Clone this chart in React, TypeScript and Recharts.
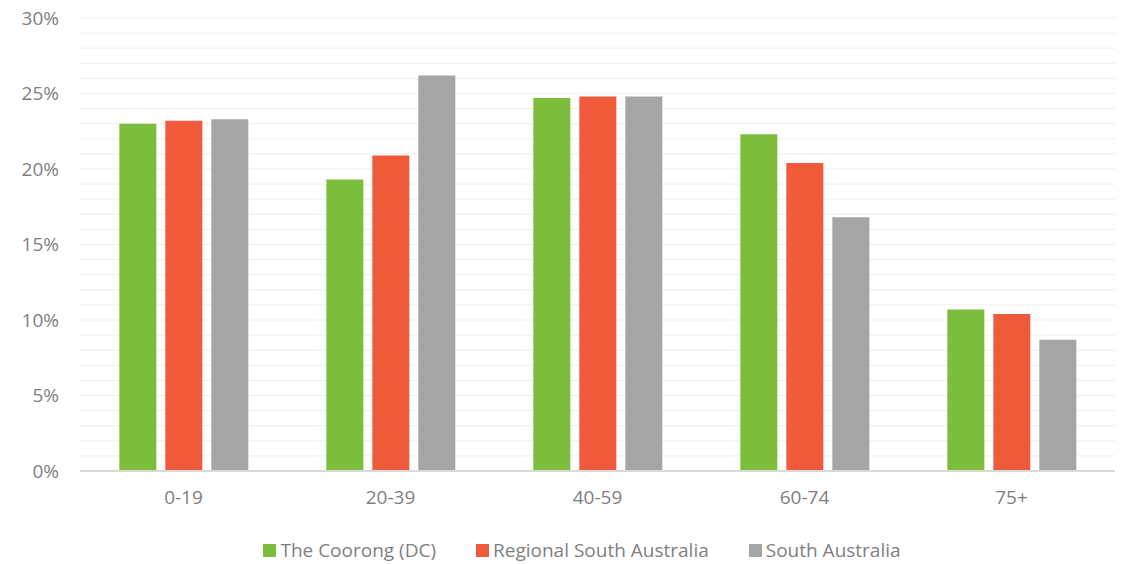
import React from "react";
import { BarChart, Bar, XAxis, YAxis, CartesianGrid, Legend } from "recharts";

const categories = ["0-19", "20-39", "40-59", "60-74", "75+"];
const coorong = [23.0, 19.3, 24.7, 22.3, 10.7];
const regionalSA = [23.2, 20.9, 24.8, 20.4, 10.4];
const southAustralia = [23.3, 26.2, 24.8, 16.8, 8.7];
const yTicks = [0, 5, 10, 15, 20, 25, 30];
const yMax = 30;
const gridValues = [1, 2, 3, 4, 5, 6, 7, 8, 9, 10, 11, 12, 13, 14, 15, 16, 17, 18, 19, 20, 21, 22, 23, 24, 25, 26, 27, 28, 29, 30];

const seriesKeys = ["coorong", "regional", "sa"];
const seriesNames = ["The Coorong (DC)", "Regional South Australia", "South Australia"];
const seriesColors = ["#7cbd3c", "#ef5a3b", "#a5a5a5"];

const data = categories.map((c, i) => ({
  name: c,
  coorong: coorong[i],
  regional: regionalSA[i],
  sa: southAustralia[i],
}));

const FONT = "'Open Sans', sans-serif";
const TEXT = "#7f7f7f";

function gridCoords(props: any): number[] {
  const s = props?.yAxis?.scale;
  return gridValues.map((v) => {
    if (typeof s === "function") return s(v);
    if (s && typeof s.map === "function") return s.map(v);
    const off = props.offset;
    return off.top + off.height * (1 - v / yMax);
  });
}

function LegendContent() {
  return (
    <div
      style={{
        display: "flex",
        justifyContent: "center",
        alignItems: "center",
        height: 28,
        paddingLeft: 40,
        fontFamily: FONT,
        fontSize: 19,
        color: TEXT,
      }}
    >
      {seriesNames.map((n, i) => (
        <div key={n} style={{ display: "flex", alignItems: "center", marginRight: i < seriesNames.length - 1 ? 40 : 0 }}>
          <span style={{ display: "inline-block", width: 13, height: 13, background: seriesColors[i], marginRight: 4 }} />
          <span>{n}</span>
        </div>
      ))}
    </div>
  );
}

export default function App() {
  return (
    <div style={{ position: "absolute", left: 0, top: 0, width: 1124, height: 564, background: "#fff" }}>
      <BarChart
        width={1124}
        height={564}
        data={data}
        margin={{ top: 18, right: 9, bottom: 0, left: 0 }}
        barCategoryGap="19%"
        barGap={9}
      >
        <CartesianGrid vertical={false} stroke="#efefef" horizontalCoordinatesGenerator={gridCoords} />
        <XAxis
          dataKey="name"
          axisLine={{ stroke: "#d9d9d9", strokeWidth: 2 }}
          tickLine={false}
          tick={{ fill: TEXT, fontSize: 19, fontFamily: FONT }}
          tickMargin={14}
          height={65}
        />
        <YAxis
          domain={[0, yMax]}
          ticks={yTicks}
          width={80}
          axisLine={false}
          tickLine={false}
          tickMargin={15}
          tickFormatter={(v: number) => `${v}%`}
          tick={{ fill: TEXT, fontSize: 19, fontFamily: FONT }}
        />
        <Legend
          verticalAlign="bottom"
          align="center"
          height={28}
          wrapperStyle={{ bottom: 0, width: 1124, left: 0 }}
          content={<LegendContent />}
        />
        {seriesKeys.map((k, i) => (
          <Bar key={k} dataKey={k} name={seriesNames[i]} fill={seriesColors[i]} isAnimationActive={false} />
        ))}
      </BarChart>
    </div>
  );
}
